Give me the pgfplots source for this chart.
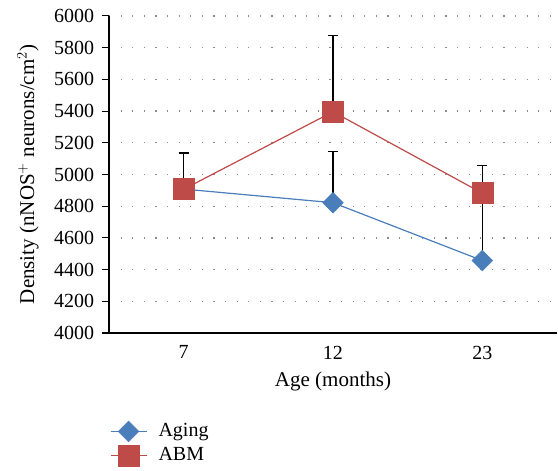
\documentclass[border=0pt]{standalone}
\usepackage{fontspec}
\setmainfont{Liberation Serif}
\usepackage{pgfplots}
\pgfplotsset{compat=1.18}
\definecolor{agingblue}{HTML}{4A7EBB}
\definecolor{abmred}{HTML}{BE4B48}
\begin{document}
\fontsize{20}{23}\selectfont
\begin{tikzpicture}
\useasboundingbox (-109pt,-138pt) rectangle (449pt,333pt);
\begin{axis}[
  at={(0,0)}, anchor=south west,
  scale only axis, width=448pt, height=317pt,
  xmin=-0.5, xmax=2.5, ymin=4000, ymax=6000,
  xtick={0,1,2}, xticklabels={7,12,23},
  ytick={4000,4200,...,6000},
  axis x line=bottom, axis y line=left,
  axis line style={-, line width=1.1pt},
  x axis line style={shorten <=-7pt},
  xtick style={draw=none},
  ytick style={black, line width=1pt},
  tick align=outside, major tick length=7pt,
  ymajorgrids, grid style={gray!90, line width=1.3pt, dash pattern=on 1.3pt off 10.3pt},
  /pgf/number format/assume math mode=true,
  /pgf/number format/1000 sep={},
  yticklabel style={font=\fontsize{20}{23}\selectfont, xshift=-1pt},
  xticklabel style={font=\fontsize{20}{23}\selectfont, yshift=1pt},
  xlabel={Age (months)},
  ylabel={Density (nNOS$^+$ neurons/cm$^2$)},
  label style={font=\fontsize{21}{24}\selectfont},
  xlabel style={at={(axis description cs:0.5,-0.152)}, anchor=center},
  ylabel style={at={(axis description cs:-0.181,0.5)}, anchor=center},
  legend style={at={(axis description cs:-0.005,-0.271)}, anchor=north west, draw=none, fill=none,
    font=\fontsize{20}{23}\selectfont, row sep=3pt,
    /tikz/every even column/.append style={column sep=4pt}},
  legend cell align=left,
  legend image code/.code={
    \draw[mark repeat=2,mark phase=2] plot coordinates {(0pt,0pt)(18pt,0pt)(36pt,0pt)};
    \path[draw=none] (0pt,0pt) -- (46pt,0pt);
  },
  clip=false,
]
\addplot[color=agingblue, line width=1.2pt, mark=square*, mark size=7.3pt,
  mark options={rotate=45, fill=agingblue, draw=agingblue, line width=0.5pt},
  error bars/.cd, y dir=plus, y explicit,
  error bar style={black, line width=1.4pt},
  error mark options={rotate=90, mark size=5pt, black, line width=1.4pt}]
  coordinates {(0,4908) +- (0,228) (1,4822) +- (0,322) (2,4457) +- (0,430)};
\addlegendentry{Aging}
\addplot[color=abmred, line width=1.2pt, mark=square*, mark size=10.5pt,
  mark options={fill=abmred, draw=abmred, line width=0.5pt},
  error bars/.cd, y dir=plus, y explicit,
  error bar style={black, line width=1.4pt},
  error mark options={rotate=90, mark size=5pt, black, line width=1.4pt}]
  coordinates {(0,4907) +- (0,228) (1,5396) +- (0,480) (2,4882) +- (0,173)};
\addlegendentry{ABM}
\end{axis}
\end{tikzpicture}
\end{document}
